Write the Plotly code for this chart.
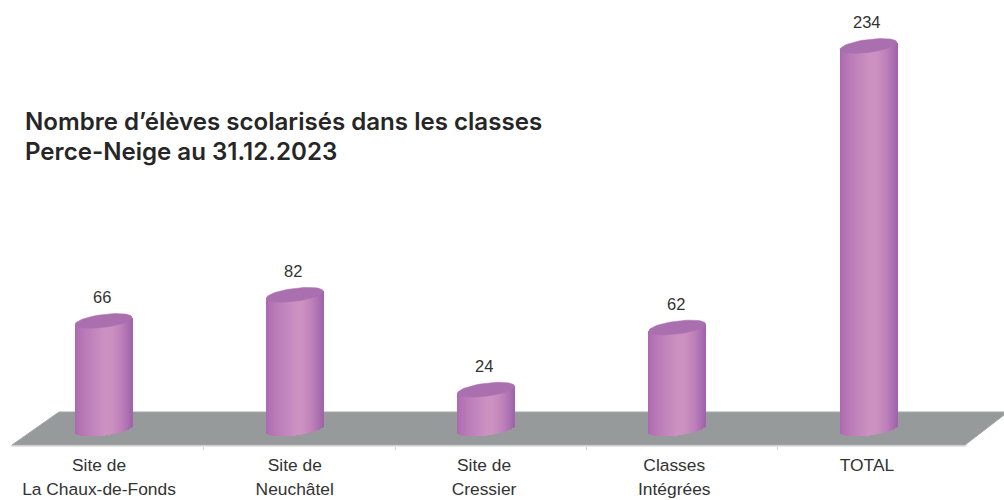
import math
import plotly.graph_objects as go

# ---- data ----
line1 = ["Site de", "Site de", "Site de", "Classes", "TOTAL"]
line2 = ["La Chaux-de-Fonds", "Neuchâtel", "Cressier", "Intégrées", ""]
values = [66, 82, 24, 62, 234]
title_lines = ["Nombre d’élèves scolarisés dans les classes", "Perce-Neige au 31.12.2023"]

# ---- geometry of the drawing ----
W, H = 1004, 500
AXIS_PX = 446
PX_PER_UNIT = 1.637
ZERO_PX = 429
STEP_PX = 191.25
FIRST_PX = 103.5
HALF_W_PX = 28.5
CAP_B_PX = 6.5
TILT_PX = 3.5
LABEL_SHIFT_PX = -1.7
TICK_SHIFTS_PX = (-4.5, 0, -2, -3, -1.5)

xr = [(0 - FIRST_PX) / STEP_PX, (W - FIRST_PX) / STEP_PX]
yr = [(ZERO_PX - AXIS_PX) / PX_PER_UNIT, ZERO_PX / PX_PER_UNIT]
idx = list(range(len(values)))


def mix(a, b, f):
    return tuple(a[i] + (b[i] - a[i]) * f for i in range(3))


def body_colour(t):
    # t from -1 (left) to 1 (right)
    left, mid, right = (170, 104, 176), (206, 146, 194), (160, 98, 170)
    peak = 0.1
    if t < peak:
        c = mix(left, mid, ((t + 1) / (1 + peak)) ** 0.7)
    else:
        c = mix(mid, right, ((t - peak) / (1 - peak)) ** 1.8)
    return "rgb(%d,%d,%d)" % c


fig = go.Figure()

# cylinder bodies: one thin bar per pixel column, across all categories
n = int(HALF_W_PX * 2)
for j in range(n):
    t = (j + 0.5) / n * 2 - 1
    low = math.sqrt(max(0, 1 - t * t)) * CAP_B_PX
    tilt = TILT_PX * t
    base_off = (-low + tilt) / PX_PER_UNIT
    top_off = tilt / PX_PER_UNIT
    fig.add_trace(go.Bar(
        x=idx,
        y=[v + top_off - base_off for v in values],
        base=[base_off] * len(values),
        width=1.25 / STEP_PX,
        offset=(j - n / 2) / STEP_PX,
        marker=dict(color=body_colour(t), line=dict(width=0)),
        showlegend=False,
        hoverinfo="skip",
    ))

# elliptical top caps, placed from the values
for i, v in zip(idx, values):
    xs, ys = [], []
    for k in range(61):
        a = 2 * math.pi * k / 60
        t = math.cos(a)
        xs.append(i + t * HALF_W_PX / STEP_PX)
        ys.append(v + (TILT_PX * t + CAP_B_PX * math.sin(a)) / PX_PER_UNIT)
    fig.add_trace(go.Scatter(
        x=xs, y=ys, mode="lines", fill="toself",
        fillcolor="#a96fae", line=dict(color="#a96fae", width=0.5),
        showlegend=False, hoverinfo="skip",
    ))

# value labels
annotations = [
    dict(x=i, y=v, text=str(v), showarrow=False, yshift=24, xshift=LABEL_SHIFT_PX, yanchor="middle",
         font=dict(family="Liberation Sans", size=16.5, color="#333333"))
    for i, v in zip(idx, values)
]

# grey floor
def px(x):
    return x / W


def py(y):
    return 1 - y / AXIS_PX


floor = [(12, 445), (59, 412), (1004, 412), (1004, 415), (965, 445)]
path = "M " + " L ".join(f"{px(x):.5f},{py(y):.5f}" for x, y in floor) + " Z"

ticktext = [
    f'<span style="font-size:17.4px">{a}</span><br><span style="font-size:17.4px">{b}</span>'
    if b else f'<span style="font-size:17.4px">{a}</span>'
    for a, b in zip(line1, line2)
]
title_text = "<br>".join(f'<span style="font-size:24.1px">{s}</span>' for s in title_lines)

fig.update_layout(
    width=W, height=H, autosize=False,
    margin=dict(l=0, r=0, t=0, b=H - AXIS_PX),
    paper_bgcolor="white", plot_bgcolor="white",
    barmode="overlay", bargap=0,
    showlegend=False,
    title=dict(
        text=title_text, x=25 / W, xanchor="left", xref="container",
        y=1 - 130 / H, yanchor="top", yref="container",
        font=dict(family="Inter", size=23, color="#262626", weight=600),
    ),
    shapes=[
        dict(type="path", xref="paper", yref="paper", path=path,
             fillcolor="#979a9b", line=dict(color="#a4a6a7", width=1), layer="below"),
        dict(type="line", xref="paper", yref="paper", x0=px(11), x1=px(966), y0=0, y1=0,
             line=dict(color="#c9c9c9", width=1), layer="below"),
    ],
    annotations=annotations,
    xaxis=dict(
        range=xr, tickmode="array",
        tickvals=[i + s / STEP_PX for i, s in zip(idx, TICK_SHIFTS_PX)], ticktext=ticktext,
        ticks="", showgrid=False, zeroline=False, showline=False,
        ticklabelstandoff=5,
        tickfont=dict(family="Liberation Sans", size=18.5, color="#333333"),
        minor=dict(tickmode="array", tickvals=[i + 0.525 for i in idx[:-1]],
                   ticks="outside", ticklen=3, tickcolor="#d5d5d5", showgrid=False),
    ),
    yaxis=dict(range=yr, visible=False, showgrid=False, zeroline=False),
)

fig.write_html("out.html", config=dict(displayModeBar=False),
               post_script="document.body.style.margin='0';document.body.style.overflow='hidden';")
